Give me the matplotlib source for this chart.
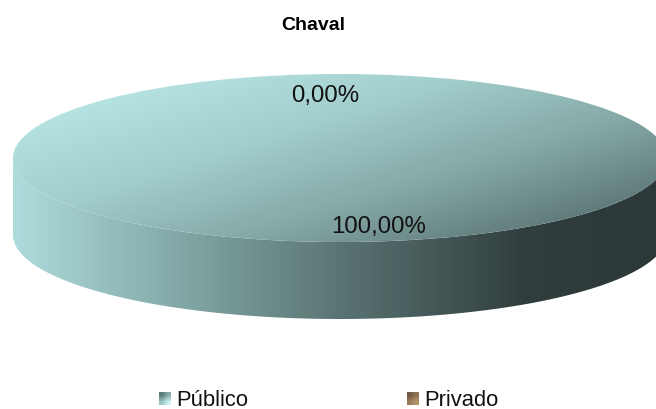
import numpy as np
import matplotlib
matplotlib.use('Agg')
import matplotlib.pyplot as plt
from matplotlib.colors import LinearSegmentedColormap
from matplotlib.patches import Polygon

categories = ['Público', 'Privado']
values = [100.0, 0.0]
value_labels = ['100,00%', '0,00%']
title = 'Chaval'

W, H = 656, 410
cx, cy, a, b = 340, 159, 327, 84
depth = 77

plt.rcParams['font.family'] = ['Liberation Sans', 'DejaVu Sans']
fig = plt.figure(figsize=(W/100, H/100), dpi=100)

d = depth/b
# axes around the disc, goes past the right edge of the figure
ax = fig.add_axes([(cx-a)/W, 1-(cy+b+depth)/H, 2*a/W, (2*b+depth)/H])
wedges, _ = ax.pie(values, radius=1, startangle=90, counterclock=False)
ax.set_aspect('auto')
ax.axis('off')

# side of the disc
t = np.linspace(np.pi, 2*np.pi, 200)
xs = np.cos(t)
ys = np.sin(t)
side = np.concatenate([np.c_[xs, ys-d], np.c_[xs[::-1], ys[::-1]]])
sidePatch = Polygon(side, closed=True, transform=ax.transData, fc='none', ec='none')
ax.add_patch(sidePatch)
sideCmap = LinearSegmentedColormap.from_list('side', [(0, '#aedcdc'), (0.27, '#7fa5a3'), (0.5, '#5a7473'), (0.78, '#313e3e'), (1, '#2d3838')])
im = ax.imshow(np.linspace(0, 1, 400)[None, :], extent=(-1, 1, -1-d, 1), cmap=sideCmap, aspect='auto', zorder=1, origin='lower', vmin=0, vmax=1)
im.set_clip_path(sidePatch)

# top face with diagonal gradient
topCmap = LinearSegmentedColormap.from_list('top', ['#b9e6e6', '#a3d0ce', '#84a8a6', '#577070'])
gx, gy = np.meshgrid(np.linspace(0, 1, 300), np.linspace(1, 0, 200))
grad = np.clip(0.68*gx + 0.55*gy - 0.12, 0, 1)
w = wedges[0]
w.set_facecolor('none')
w.set_edgecolor('none')
w.set_zorder(2)
im2 = ax.imshow(grad, extent=(-1, 1, -1, 1), cmap=topCmap, aspect='auto', zorder=2, origin='lower', vmin=0, vmax=1)
im2.set_clip_path(w)
ax.set_xlim(-1, 1)
ax.set_ylim(-1-d, 1)

fig.text(313/W, 1-26/H, title, ha='center', va='center', fontsize=14, fontweight='bold')
fig.text(379/W, 1-227/H, value_labels[0], ha='center', va='center', fontsize=17.3, color='#111111')
fig.text(325/W, 1-96/H, value_labels[1], ha='center', va='center', fontsize=17.3, color='#111111')

# legend
leg = fig.add_axes([0, 0, 1, 1], facecolor='none')
leg.axis('off')
legendX = [159, 407]
keyCmaps = [LinearSegmentedColormap.from_list('k0', ['#5d7a7a', '#c8f4f4']),
            LinearSegmentedColormap.from_list('k1', ['#6f5a45', '#b8946e'])]
for name, x, cm in zip(categories, legendX, keyCmaps):
    g = np.array([[0.0, 0.4], [0.6, 1.0]])
    leg.imshow(g, extent=(x, x+12, 406, 393), cmap=cm, interpolation='bilinear', aspect='auto')
    leg.text(x+17, 400.5, name, ha='left', va='center', fontsize=15.8, color='#111111')
leg.set_xlim(0, W)
leg.set_ylim(H, 0)

fig.savefig('out.png', dpi=100)
